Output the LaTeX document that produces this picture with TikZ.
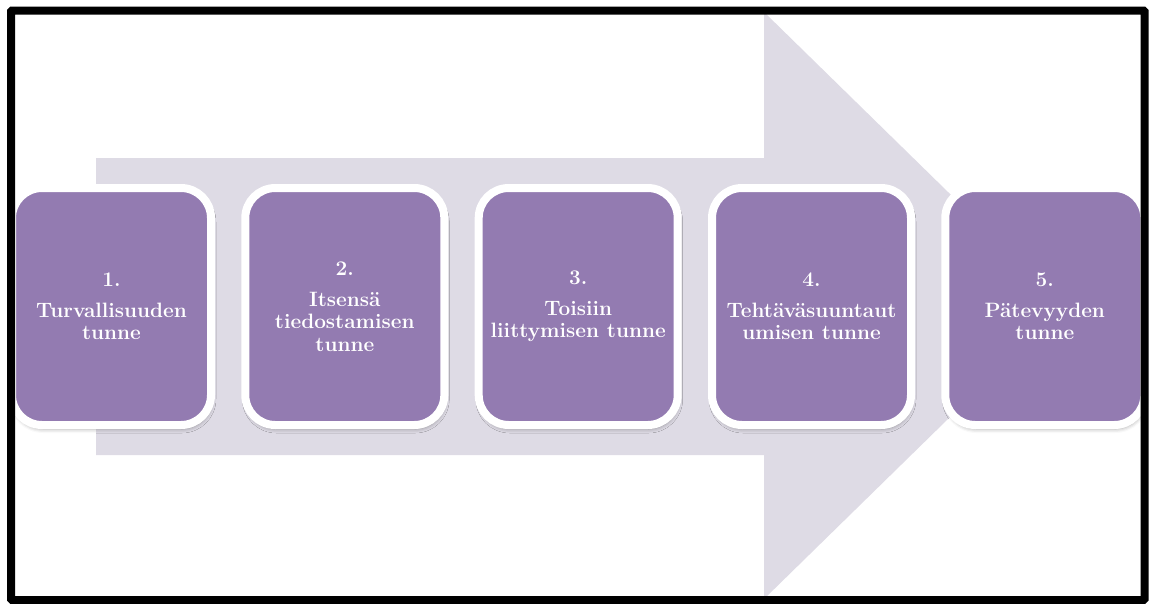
\documentclass[tikz,border=0pt]{standalone}
\usepackage{fontspec}
\usetikzlibrary{shadows.blur}
\definecolor{violetti}{RGB}{147,123,177}
\definecolor{nuolivari}{RGB}{222,219,229}
\begin{document}
\begin{tikzpicture}[x=1pt, y=-1pt,
        vaihe/.style={rectangle, rounded corners=30pt, fill=violetti, draw=white,
            line width=8pt, minimum width=199pt, minimum height=237pt,
            align=center, text=white, font=\fontsize{20.8}{22.5}\selectfont\bfseries,
            blur shadow={shadow xshift=1pt, shadow yshift=-4pt,
                shadow blur radius=4pt, shadow opacity=35}}]
        \useasboundingbox (0,0) rectangle (1150,603);

        % Iso nuoli taustalla
        \fill[nuolivari] (96,158) -- (764,158) -- (764,12) -- (1064,305.5)
            -- (764,599) -- (764,455) -- (96,455) -- cycle;

        % Vaiheet
        \node[vaihe] (v1) at (111.5,306.5) {1.\\[8pt]Turvallisuuden\\tunne};
        \node[vaihe] (v2) at (344.8,306.5) {2.\\[8pt]Itsensä\\tiedostamisen\\tunne};
        \node[vaihe] (v3) at (578.2,306.5) {3.\\[8pt]Toisiin\\liittymisen tunne};
        \node[vaihe] (v4) at (811.5,306.5) {4.\\[8pt]Tehtäväsuuntaut\\umisen tunne};
        \node[vaihe] (v5) at (1044.8,306.5) {5.\\[8pt]Pätevyyden\\tunne};

        % Musta kehys
        \draw[line width=8pt, rounded corners=1pt] (11,10.5) rectangle (1144.5,600);

    \end{tikzpicture}
\end{document}
